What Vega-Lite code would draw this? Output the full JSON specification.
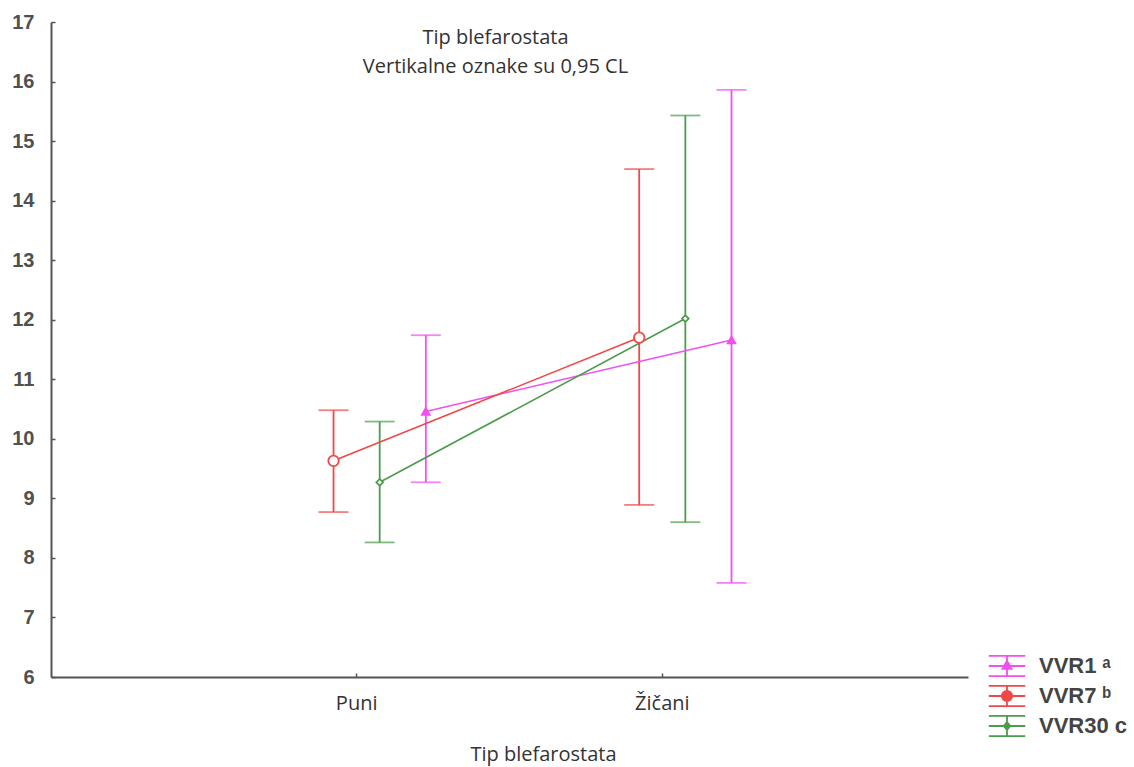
{
  "$schema": "https://vega.github.io/schema/vega-lite/v6.json",
  "width": 917,
  "height": 655,
  "autosize": {"type": "none"},
  "padding": {"left": 51, "top": 22, "right": 166, "bottom": 90},
  "background": "white",
  "config": {
    "view": {"stroke": null},
    "axis": {
      "domainColor": "#555555",
      "domainWidth": 2,
      "tickColor": "#555555",
      "tickWidth": 1.5,
      "tickSize": -4,
      "grid": false
    }
  },
  "title": {
    "text": ["Tip blefarostata", "Vertikalne oznake su 0,95 CL"],
    "frame": "group",
    "anchor": "middle",
    "orient": "top",
    "offset": 0,
    "baseline": "alphabetic",
    "dx": -14,
    "dy": 81,
    "font": "Open Sans",
    "fontSize": 20,
    "fontWeight": "normal",
    "color": "#333333",
    "lineHeight": 29
  },
  "data": {
    "values": [
      {"series": "VVR1", "group": "Puni", "mean": 10.46, "lo": 9.27, "hi": 11.74},
      {"series": "VVR1", "group": "Žičani", "mean": 11.66, "lo": 7.58, "hi": 15.86},
      {"series": "VVR7", "group": "Puni", "mean": 9.63, "lo": 8.77, "hi": 10.48},
      {"series": "VVR7", "group": "Žičani", "mean": 11.70, "lo": 8.89, "hi": 14.53},
      {"series": "VVR30", "group": "Puni", "mean": 9.27, "lo": 8.26, "hi": 10.29},
      {"series": "VVR30", "group": "Žičani", "mean": 12.02, "lo": 8.60, "hi": 15.43}
    ]
  },
  "encoding": {
    "x": {
      "field": "group",
      "type": "nominal",
      "scale": {"type": "band", "domain": ["Puni", "Žičani"], "paddingInner": 0, "paddingOuter": 0.5},
      "axis": {
        "title": "Tip blefarostata",
        "labelAngle": 0,
        "bandPosition": 0.5,
        "labelFont": "Open Sans",
        "labelFontSize": 20,
        "labelColor": "#333333",
        "labelPadding": 20,
        "titleFont": "Open Sans",
        "titleFontSize": 20,
        "titleFontWeight": "normal",
        "titleColor": "#333333",
        "titleX": 492,
        "titleY": 83,
        "titleBaseline": "alphabetic",
        "titleAlign": "center"
      }
    },
    "xOffset": {
      "field": "series",
      "type": "nominal",
      "scale": {"type": "point", "domain": ["VVR7", "VVR30", "VVR1"], "range": [129.7, 222], "padding": 0}
    },
    "color": {
      "field": "series",
      "type": "nominal",
      "scale": {"domain": ["VVR1", "VVR7", "VVR30"], "range": ["#f050f0", "#f04848", "#4c9c4c"]},
      "legend": {
        "orient": "none",
        "legendX": 942,
        "legendY": 630,
        "title": null,
        "padding": 0,
        "rowPadding": 2,
        "labelOffset": 18,
        "symbolSize": 676,
        "labelFont": "Liberation Sans",
        "labelFontSize": 22,
        "labelFontWeight": "bold",
        "labelColor": "#444444",
        "labelBaseline": "middle",
        "labelExpr": "datum.label === 'VVR1' ? 'VVR1 ᵃ' : datum.label === 'VVR7' ? 'VVR7 ᵇ' : 'VVR30 c'",
        "encode": {
          "symbols": {
            "update": {
              "shape": {"signal": "datum.value === 'VVR1' ? 'M-1.4,-0.78H1.4M-1.4,0H1.4M-1.4,0.78H1.4M0,-0.78V0.78M0,-0.4L0.35,0.22L-0.35,0.22Z' : datum.value === 'VVR7' ? 'M-1.4,-0.78H1.4M-1.4,0H1.4M-1.4,0.78H1.4M0,-0.78V0.78M-0.4,0A0.4,0.4 0 1,0 0.4,0A0.4,0.4 0 1,0 -0.4,0Z' : 'M-1.4,-0.78H1.4M-1.4,0H1.4M-1.4,0.78H1.4M0,-0.78V0.78M0,-0.3L0.25,0L0,0.3L-0.25,0Z'"},
              "fill": {"signal": "datum.value === 'VVR7' ? '#ffffff' : scale('color', datum.value)"},
              "stroke": {"signal": "scale('color', datum.value)"},
              "strokeWidth": {"value": 1.8},
              "opacity": {"value": 1},
              "fillOpacity": {"value": 1},
              "strokeOpacity": {"value": 1},
              "size": {"value": 676}
            }
          }
        }
      }
    }
  },
  "layer": [
    {
      "mark": {"type": "rule", "strokeWidth": 1.8},
      "encoding": {
        "y": {
          "field": "lo",
          "type": "quantitative",
          "title": null,
          "scale": {"domain": [6, 17], "nice": false, "zero": false},
          "axis": {
            "values": [6, 7, 8, 9, 10, 11, 12, 13, 14, 15, 16, 17],
            "format": "d",
            "labelFont": "Liberation Sans",
            "labelFontSize": 20,
            "labelFontWeight": "bold",
            "labelColor": "#505050",
            "labelPadding": 21
          }
        },
        "y2": {"field": "hi"}
      }
    },
    {
      "mark": {"type": "tick", "orient": "horizontal", "size": 30, "thickness": 1.8},
      "encoding": {"y": {"field": "lo", "type": "quantitative", "title": null}}
    },
    {
      "mark": {"type": "tick", "orient": "horizontal", "size": 30, "thickness": 1.8},
      "encoding": {"y": {"field": "hi", "type": "quantitative", "title": null}}
    },
    {
      "mark": {"type": "line", "strokeWidth": 1.6},
      "encoding": {
        "y": {"field": "mean", "type": "quantitative", "title": null},
        "detail": {"field": "series"}
      }
    },
    {
      "transform": [{"filter": {"field": "series", "equal": "VVR1"}}],
      "mark": {"type": "point", "shape": "triangle-up", "size": 60, "filled": false, "fill": "#f050f0", "strokeWidth": 1.8, "opacity": 1},
      "encoding": {"y": {"field": "mean", "type": "quantitative", "title": null}}
    },
    {
      "transform": [{"filter": {"field": "series", "equal": "VVR7"}}],
      "mark": {"type": "point", "shape": "circle", "size": 110, "filled": false, "fill": "#ffffff", "strokeWidth": 1.8, "opacity": 1},
      "encoding": {"y": {"field": "mean", "type": "quantitative", "title": null}}
    },
    {
      "transform": [{"filter": {"field": "series", "equal": "VVR30"}}],
      "mark": {"type": "point", "shape": "diamond", "size": 45, "filled": false, "fill": "#ffffff", "strokeWidth": 1.8, "opacity": 1},
      "encoding": {"y": {"field": "mean", "type": "quantitative", "title": null}}
    }
  ]
}
